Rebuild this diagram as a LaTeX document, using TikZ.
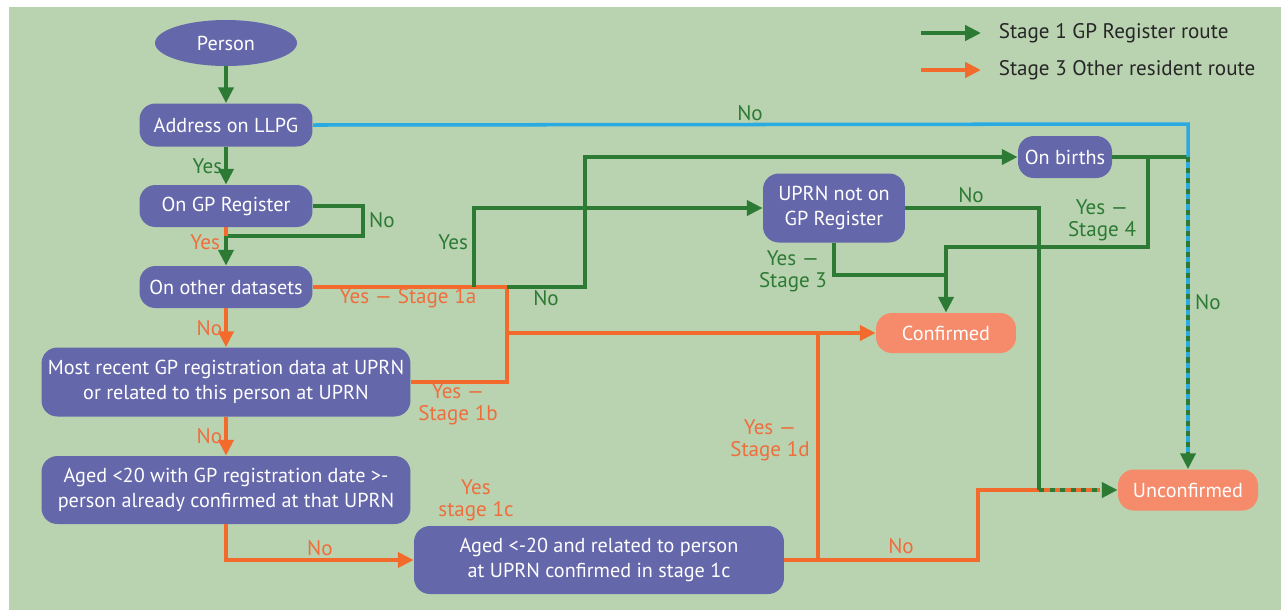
\documentclass[tikz,border=0pt]{standalone}
\usepackage{fontspec}
\setmainfont{PT Sans}
\usetikzlibrary{arrows.meta,shapes.geometric}

\definecolor{fondo}{HTML}{B9D3B0}
\definecolor{azul}{HTML}{6567AB}
\definecolor{salmon}{HTML}{F58B6B}
\definecolor{verdeosc}{HTML}{2D7A35}
\definecolor{naranja}{HTML}{F26A2C}
\definecolor{celeste}{HTML}{29ABE2}
\definecolor{textonar}{HTML}{EE6E3E}

\tikzset{
  caja/.style={fill=azul, text=white, rounded corners=9pt, align=center,
    font=\fontsize{11.5}{14}\selectfont, inner sep=0pt},
  final/.style={caja, fill=salmon},
  lverde/.style={draw=verdeosc, line width=2.3pt},
  lnaranja/.style={draw=naranja, line width=2.3pt},
  lceleste/.style={draw=celeste, line width=2pt},
  flecha/.style={-{Triangle[length=9pt,width=8.5pt]}},
  etiq/.style={font=\fontsize{12}{12.5}\selectfont, align=center, inner sep=1pt},
  etverde/.style={etiq, text=verdeosc},
  etnaranja/.style={etiq, text=textonar},
}

\begin{document}
\begin{tikzpicture}[x=0.02cm,y=-0.02cm]
    \useasboundingbox (0,0) rectangle (1281,610);
    \fill[white] (0,0) rectangle (1281,610);
    \fill[fondo] (9,7) rectangle (1281,610);
    % cajas de la columna izquierda
    \node[caja, ellipse, minimum width=2.84cm, minimum height=0.92cm] (persona) at (226,43) {Person};
    \node[caja, minimum width=3.46cm, minimum height=0.86cm] (llpg) at (226,125) {Address on LLPG};
    \node[caja, minimum width=3.46cm, minimum height=0.84cm] (gpreg) at (226,206) {On GP Register};
    \node[caja, minimum width=3.46cm, minimum height=0.84cm] (otros) at (226,287) {On other datasets};
    \node[caja, minimum width=7.38cm, minimum height=1.38cm] (reciente) at (226,382)
        {Most recent GP registration data at UPRN\\or related to this person at UPRN};
    \node[caja, minimum width=7.38cm, minimum height=1.36cm] (menor) at (226,490)
        {Aged <20 with GP registration date >-\\person already confirmed at that UPRN};
    \node[caja, minimum width=7.4cm, minimum height=1.36cm] (etapa1c) at (599,560)
        {Aged <-20 and related to person\\at UPRN confirmed in stage 1c};
    % cajas de la derecha
    \node[caja, minimum width=2.84cm, minimum height=1.38cm] (uprn) at (834,208) {UPRN not on\\GP Register};
    \node[caja, minimum width=1.88cm, minimum height=0.84cm] (births) at (1065,157) {On births};
    \node[final, minimum width=2.8cm, minimum height=0.8cm] (conf) at (946,333) {Confirmed};
    \node[final, minimum width=2.8cm, minimum height=0.82cm] (unconf) at (1188,490) {Unconfirmed};
    % puntos de quiebre
    \coordinate (lazo) at (226,236);
    \coordinate (cruce1a) at (507,287);
    \coordinate (subeyes) at (474,287);
    \coordinate (ramal) at (507,333);
    \coordinate (baja1d) at (818,333);
    \coordinate (esquina) at (1188,157);
    \coordinate (salto) at (978,490);
    \coordinate (junta) at (1039,490);
    \coordinate (une) at (946,275);
    \coordinate (baja4) at (946,247);
    % leyenda
    \coordinate (leyv) at (921,33);
    \coordinate (leyn) at (921,70);
    \draw[lverde, flecha] (leyv) -- ++(60,0) node[right=8pt, text=black!85, etiq] (ley1) {Stage 1 GP Register route};
    \draw[lnaranja, flecha] (leyn) -- ++(60,0) node[right=8pt, text=black!85, etiq] (ley2) {Stage 3 Other resident route};
    % columna principal
    \draw[lverde, flecha] (persona) -- (llpg);
    \draw[lverde, flecha] (llpg) -- (gpreg) node[midway, left, etverde] (si1) {Yes};
    \draw[lverde] (gpreg.east) -- ++(50,0) |- (lazo);
    \node[etverde, anchor=west] (no1) at (367,220) {No};
    \draw[lnaranja] (gpreg.south) -- (lazo);
    \draw[lverde, flecha] (lazo) -- (otros.north);
    \node[etnaranja, anchor=east] (si2) at (222,242) {Yes};
    \draw[lnaranja, flecha] (otros) -- (reciente) node[midway, left, etnaranja] (no2) {No};
    \draw[lnaranja, flecha] (reciente) -- (menor) node[midway, left, etnaranja] (no3) {No};
    \draw[lnaranja, flecha] (menor.south) |- (etapa1c.west) node[pos=0.75, above, etnaranja] (no4) {No};
    % ruta naranja hacia confirmed
    \draw[lnaranja] (otros.east) -- (cruce1a) |- (reciente.east);
    \draw[lnaranja, flecha] (ramal) -- (conf.west);
    \draw[lnaranja] (etapa1c.east) -| (salto) -- (junta);
    \draw[lnaranja] (baja1d) -- (baja1d |- etapa1c.east);
    \node[etnaranja] (si1a) at (408,298) {Yes — Stage 1a};
    \node[etnaranja] (si1b) at (458,404) {Yes —\\Stage 1b};
    \node[etnaranja] (si1c) at (476,500) {Yes\\stage 1c};
    \node[etnaranja] (si1d) at (770,440) {Yes —\\Stage 1d};
    \node[etnaranja] (no5) at (901,546) {No};
    % ramas verdes
    \draw[lverde, flecha] (subeyes) |- (uprn.west);
    \node[etverde, anchor=east] (si3) at (470,242) {Yes};
    \draw[lverde, flecha] (cruce1a) -- (585,287) |- (births.west);
    \node[etverde] (no6) at (546,298) {No};
    \draw[lverde] (uprn.east) -| (junta);
    \node[etverde] (no7) at (971,195) {No};
    \draw[lverde] (uprn.south) |- (une);
    \draw[lverde] (births.east) -- (esquina);
    \draw[lverde] (1148,157) |- (baja4) -- (une);
    \draw[lverde, flecha] (une) -- (conf.north);
    \node[etverde] (si4) at (1102,220) {Yes —\\Stage 4};
    \node[etverde] (si5) at (793,271) {Yes —\\Stage 3};
    % ruta celeste
    \draw[lceleste] (llpg.east) -- (1188,124) -- (esquina);
    \node[etverde] (no8) at (750,113) {No};
    % tramos punteados hacia unconfirmed
    \draw[lceleste] (esquina) -- ([yshift=10pt]unconf.north);
    \draw[lverde, flecha, dash pattern=on 3pt off 3pt] (esquina) -- (unconf.north);
    \node[etverde, anchor=west] (no9) at (1193,302) {No};
    \draw[lnaranja] (junta) -- ([xshift=-10pt]unconf.west);
    \draw[lverde, flecha, dash pattern=on 3pt off 3pt] (junta) -- (unconf.west);
\end{tikzpicture}
\end{document}
